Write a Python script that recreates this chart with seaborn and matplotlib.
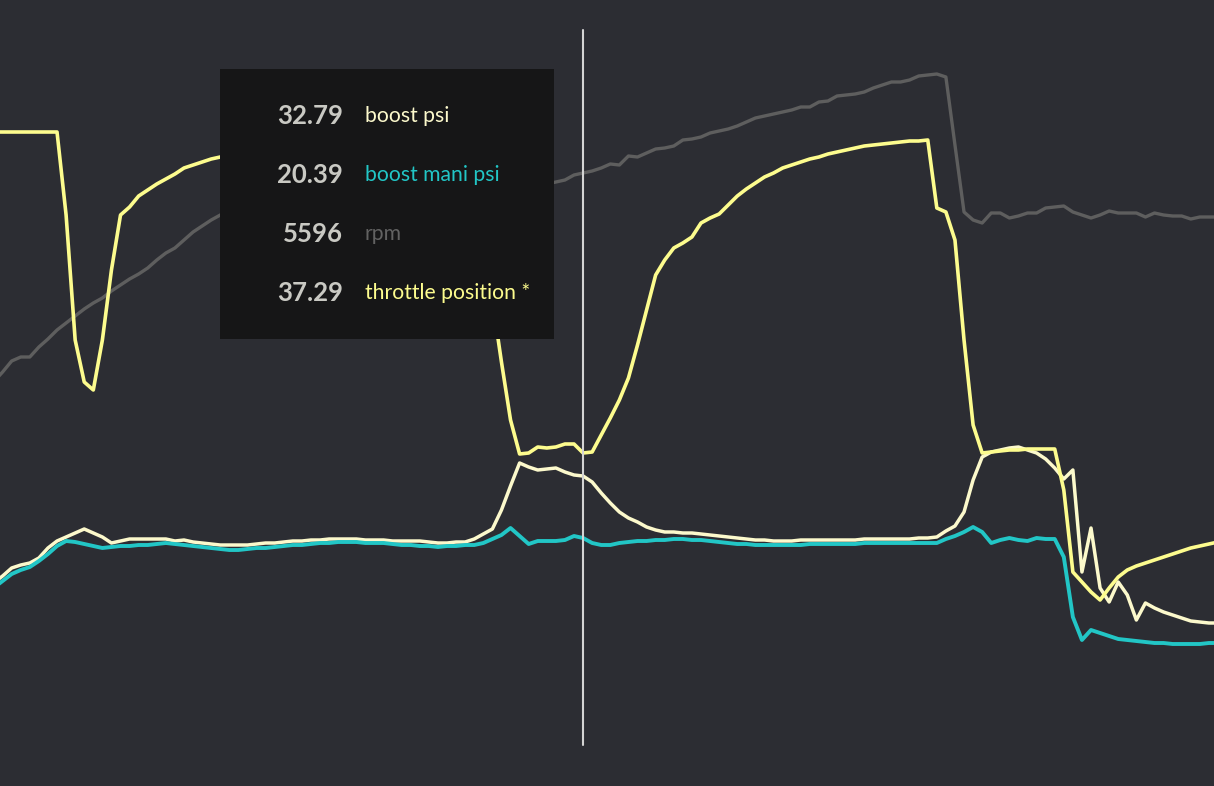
import matplotlib
matplotlib.use('Agg')
import matplotlib.pyplot as plt
from matplotlib.patches import Rectangle
import seaborn as sns
import numpy as np
import pandas as pd

##################################################################################
# data: logged channels, one sample per tick, shared display scale
##################################################################################
throttle = [668, 668, 668, 668, 668, 668, 668, 668, 585, 460, 418, 410, 460, 530,
            585, 593, 604, 610, 616, 621, 626, 632, 635, 638, 641, 643, 645, 647,
            648, 650, 651, 652, 653, 654, 655, 655, 656, 656, 657, 657, 658, 658,
            658, 659, 659, 659, 659, 660, 660, 660, 660, 660, 650, 600, 540, 500,
            438, 380, 346, 347, 353, 352, 353, 356, 356, 347, 348, 365, 382, 400,
            422, 455, 490, 525, 540, 552, 557, 563, 577, 582, 586, 595, 604, 611,
            617, 623, 627, 632, 635, 638, 641, 643, 646, 648, 650, 652, 654, 655,
            656, 657, 658, 659, 659, 660, 592, 588, 560, 460, 375, 347, 348, 349,
            350, 350, 351, 351, 351, 351, 310, 228, 218, 208, 200, 212, 223, 230,
            234, 237, 240, 243, 246, 249, 252, 254, 256, 258]

boost = [217, 224, 232, 235, 237, 242, 252, 259, 263, 267, 271, 267, 263, 257,
         259, 261, 261, 261, 261, 261, 259, 260, 258, 257, 256, 255, 255, 255,
         255, 256, 257, 257, 258, 259, 259, 260, 260, 261, 261, 261, 261, 260,
         260, 260, 259, 259, 259, 259, 258, 257, 257, 258, 258, 261, 266, 271,
         290, 314, 337, 333, 330, 331, 332, 328, 325, 324, 318, 307, 297, 288,
         282, 278, 273, 270, 268, 268, 267, 267, 266, 265, 264, 263, 262, 261,
         260, 260, 259, 259, 259, 260, 260, 260, 260, 260, 260, 260, 261, 261,
         261, 261, 261, 261, 262, 262, 263, 269, 274, 288, 320, 343, 348, 350,
         352, 353, 350, 347, 341, 332, 321, 330, 228, 272, 212, 198, 218, 205,
         180, 197, 192, 188, 185, 182, 179, 178, 177, 177]

boost_mani = [212, 219, 226, 230, 233, 239, 246, 254, 259, 258, 256, 254, 252, 253,
              254, 254, 255, 255, 256, 257, 256, 255, 254, 253, 252, 251, 250, 250,
              251, 252, 252, 253, 254, 255, 255, 256, 257, 257, 258, 258, 258, 257,
              257, 257, 256, 255, 255, 254, 254, 253, 254, 254, 255, 255, 257, 261,
              265, 272, 264, 256, 259, 259, 259, 260, 264, 262, 257, 255, 255, 257,
              258, 259, 259, 260, 260, 261, 261, 260, 260, 259, 258, 257, 256, 256,
              255, 255, 255, 255, 255, 255, 256, 256, 256, 256, 256, 256, 257, 257,
              257, 257, 257, 257, 257, 257, 257, 261, 264, 268, 273, 268, 257, 260,
              262, 260, 259, 262, 261, 261, 243, 183, 160, 170, 167, 164, 161, 160,
              159, 158, 157, 157, 156, 156, 156, 156, 157, 157]

rpm = [418, 428, 439, 443, 443, 453, 461, 470, 477, 484, 491, 497, 502, 509,
       515, 521, 526, 532, 540, 547, 552, 560, 568, 574, 580, 585, 590, 595,
       600, 605, 610, 614, 618, 622, 626, 630, 633, 636, 639, 642, 645, 647,
       649, 651, 653, 655, 656, 657, 658, 659, 659, 659, 655, 640, 622, 612,
       608, 609, 610, 612, 614, 616, 618, 620, 625, 627, 629, 632, 636, 635,
       644, 643, 647, 651, 652, 654, 660, 661, 663, 667, 669, 671, 674, 678,
       682, 684, 686, 688, 690, 693, 693, 698, 699, 704, 705, 706, 708, 712,
       715, 718, 718, 720, 724, 725, 726, 723, 655, 588, 580, 577, 587, 587,
       582, 584, 587, 587, 592, 593, 594, 588, 585, 582, 585, 589, 587, 587,
       587, 583, 587, 585, 584, 584, 581, 583, 583, 583]

SERIES = ['rpm', 'boost psi', 'boost mani psi', 'throttle position *']
COLORS = ['#5e5e5e', '#fcf9cc', '#22c6c6', '#fdfc8e']
WIDTHS = [2.4, 2.5, 2.8, 2.6]

# hover readout
CURSOR_IDX = 65
READOUT = ['32.79', '20.39', '5596', '37.29']
READOUT_ORDER = ['boost psi', 'boost mani psi', 'rpm', 'throttle position *']

##################################################################################
# build long table
##################################################################################
tick = np.arange(len(throttle))
df = pd.concat([
    pd.DataFrame({'tick': tick, 'value': rpm, 'series': 'rpm'}),
    pd.DataFrame({'tick': tick, 'value': boost, 'series': 'boost psi'}),
    pd.DataFrame({'tick': tick, 'value': boost_mani, 'series': 'boost mani psi'}),
    pd.DataFrame({'tick': tick, 'value': throttle, 'series': 'throttle position *'}),
])

##################################################################################
# plot
##################################################################################
BG = '#2c2d33'
sns.set_theme(style='dark', rc={'axes.facecolor': BG, 'figure.facecolor': BG})
plt.rcParams['font.family'] = ['Lato', 'DejaVu Sans']

fig = plt.figure(figsize=(12.14, 7.86), dpi=100)
ax = fig.add_axes([0, 0, 1, 1])

sns.lineplot(data=df, x='tick', y='value', hue='series', hue_order=SERIES,
             palette=dict(zip(SERIES, COLORS)), linewidth=2.5, legend=False,
             ax=ax, estimator=None)
for line, w in zip(ax.lines, WIDTHS):
    line.set_linewidth(w)
    line.set_solid_joinstyle('round')

ax.set_xlim(0.713, 134.56)
ax.set_ylim(14, 800)
ax.axis('off')

# cursor
ax.axvline(CURSOR_IDX, ymin=0.052, ymax=0.962, color='#d4d4d4', linewidth=1.5,
           zorder=5)

# tooltip box
box = Rectangle((220 / 1214, 1 - 339 / 786), 334 / 1214, 270 / 786,
                transform=fig.transFigure, facecolor='#161617',
                edgecolor='none', zorder=10)
fig.patches.append(box)

col = dict(zip(SERIES, COLORS))
col['rpm'] = '#626262'
for k, (name, val) in enumerate(zip(READOUT_ORDER, READOUT)):
    yy = 1 - (116 + 59 * k) / 786
    fig.text(343 / 1214, yy, val, ha='right', va='center', fontsize=18.5,
             fontweight='bold', color='#c9c9c3', zorder=11)
    fig.text(365 / 1214, yy, name, ha='left', va='center', fontsize=15.2,
             color=col[name], zorder=11)

plt.savefig('out.png', dpi=100, facecolor=BG)
